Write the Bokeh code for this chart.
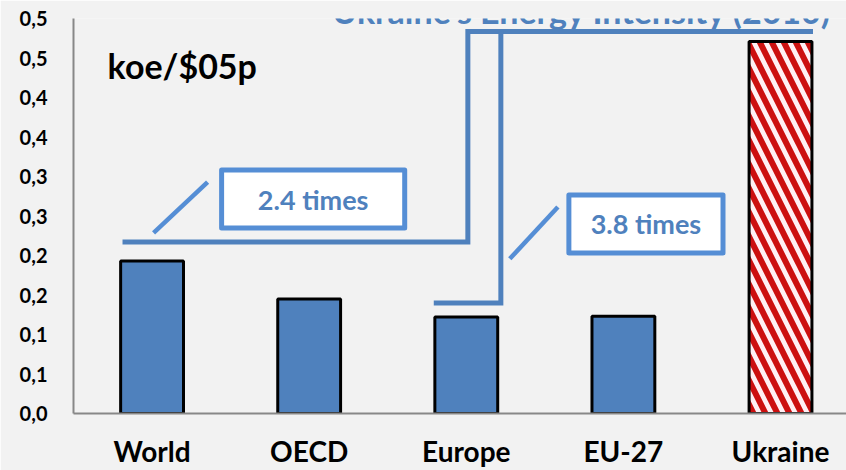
from bokeh.plotting import figure
from bokeh.models import Range1d, FixedTicker, Label, ColumnDataSource
from bokeh.core.properties import value
from bokeh.embed import file_html
from bokeh.resources import INLINE

# ---- data ----
categories = ["World", "OECD", "Europe", "EU-27", "Ukraine"]
intensity = [0.193, 0.145, 0.122, 0.123, 0.471]
y_ticks = [0.0, 0.05, 0.10, 0.15, 0.20, 0.25, 0.30, 0.35, 0.40, 0.45, 0.50]
y_tick_labels = ["0,0", "0,1", "0,1", "0,2", "0,2", "0,3", "0,3", "0,4", "0,4", "0,5", "0,5"]
title_text = "Ukraine's Energy Intensity (2010)"
unit_text = "koe/$05p"
source_text = "Enerdata"
ratio_labels = ["2.4 times", "3.8 times"]

BLUE = "#4f81bd"
BOX_BLUE = "#558ed5"
BG = "#f2f2f2"
FONT = "Lato"

W, H = 846, 470
p = figure(width=W, height=H, output_backend="svg", toolbar_location=None,
           x_range=Range1d(-0.5, 4.42), y_range=Range1d(0, 0.5),
           min_border_left=73, min_border_right=0, min_border_top=18, min_border_bottom=50)
p.background_fill_color = BG
p.border_fill_color = BG
p.outline_line_color = None
p.grid.grid_line_color = None

xs = list(range(len(categories)))

# bars
src_blue = ColumnDataSource(dict(x=xs[:-1], top=intensity[:-1]))
p.vbar(x="x", top="top", bottom=0, width=0.4, source=src_blue,
       fill_color=BLUE, line_color="black", line_width=3)
src_uk = ColumnDataSource(dict(x=xs[-1:], top=intensity[-1:]))
p.vbar(x="x", top="top", bottom=0, width=0.4, source=src_uk,
       fill_color="#fff0f4", line_color="black", line_width=3,
       hatch_pattern="\\", hatch_color="#cc1010", hatch_weight=6, hatch_scale=24)

# axes
p.yaxis.ticker = FixedTicker(ticks=y_ticks)
p.yaxis.major_label_overrides = {t: l for t, l in zip(y_ticks, y_tick_labels)}
p.xaxis.ticker = FixedTicker(ticks=xs)
p.xaxis.major_label_overrides = {i: c for i, c in zip(xs, categories)}
for ax in (p.xaxis, p.yaxis):
    ax.axis_line_color = "#888888"
    ax.axis_line_width = 2
    ax.major_tick_line_color = None
    ax.minor_tick_line_color = None
    ax.major_label_text_font = FONT
    ax.major_label_text_font_style = "bold"
    ax.major_label_text_color = "black"
p.yaxis.major_label_text_font_size = "20px"
p.yaxis.major_label_standoff = 20
p.xaxis.major_label_text_font_size = "28px"
p.xaxis.major_label_standoff = 14

# bracket connectors (relative to data values)
world, europe, ukraine = intensity[0], intensity[2], intensity[4]
y_world = world + 0.024
y_europe = europe + 0.018
y_top = ukraine + 0.0126
x_outer, x_inner = 2.01, 2.22
p.line([-0.188, x_outer, x_outer, 4.207], [y_world, y_world, y_top, y_top],
       line_color=BLUE, line_width=5, line_join="miter")
p.line([1.793, x_inner, x_inner], [y_europe, y_europe, y_top],
       line_color=BLUE, line_width=5, line_join="miter")

# callout leaders
p.line([0.0096, 0.3535], [0.2286, 0.293], line_color=BOX_BLUE, line_width=4.5)
p.line([2.277, 2.583], [0.1958, 0.2614], line_color=BOX_BLUE, line_width=4.5)

# callout boxes
p.quad(left=[0.4427, 2.653], right=[1.608, 3.634], top=[0.3081, 0.2766], bottom=[0.2349, 0.2033],
       fill_color="white", line_color=BOX_BLUE, line_width=5, line_join="round")
p.text(x=[(0.4427 + 1.608) / 2, (2.653 + 3.634) / 2], y=[(0.3081 + 0.2349) / 2, (0.2766 + 0.2033) / 2],
       text=ratio_labels, text_align="center", text_baseline="middle",
       text_font=value(FONT), text_font_style="bold", text_font_size="27px", text_color=BLUE)

# texts
p.add_layout(Label(x=-0.283, y=0.4404, text=unit_text, text_font=FONT, text_font_style="bold",
                   text_font_size="34px", text_color="black", text_baseline="alphabetic"))
p.add_layout(Label(x=2.736, y=0.5105, text=title_text, text_font=FONT, text_font_style="bold",
                   text_font_size="34px", text_color=BLUE, text_align="center",
                   text_baseline="alphabetic"))
p.add_layout(Label(x=-0.965, y=-0.062, text=source_text, text_font=FONT, text_font_style="italic",
                   text_font_size="22px", text_color="#4a6fa5", text_baseline="alphabetic"))

open("out.html", "w").write(file_html(p, INLINE))
